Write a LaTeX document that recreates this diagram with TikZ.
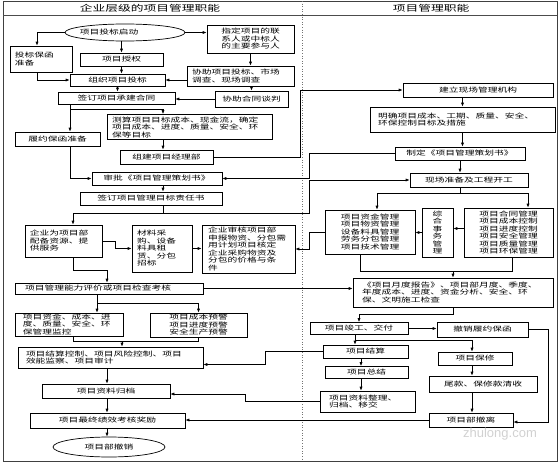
\documentclass[tikz,border=0pt]{standalone}
\usepackage{fontspec}
\newfontfamily\cjk[FakeStretch=1.5]{Noto Sans CJK SC}
\newfontfamily\wmfont{Liberation Sans}
\usetikzlibrary{arrows.meta,shapes.geometric}
\begin{document}
\begin{tikzpicture}[x=1pt,y=-1pt,
  box/.style={draw, line width=0.7pt, inner sep=0pt, align=center, font=\cjk\fontsize{6.5}{7.5}\selectfont},
  lb/.style={align=left, text width=#1},
  arr/.style={-{Latex[length=4pt,width=3.2pt]}, line width=0.7pt},
  ln/.style={line width=0.7pt},
  hdr/.style={font=\cjk\fontsize{8.5}{9}\selectfont},
]
\useasboundingbox (0,0) rectangle (560,463);
% frame
\draw[line width=1pt, black!75] (3,1) rectangle (557,461);
\draw[line width=0.6pt, black!70] (3,15) -- (557,15);
\draw[dotted, line width=0.6pt, black!55] (302,1) -- (302,461);
\node[hdr] (h1) at (150,8) {企业层级的项目管理职能};
\node[hdr] (h2) at (431,8) {项目管理职能};

% left column nodes
\node[box, shape=ellipse, minimum width=120pt, minimum height=17pt] (start) at (125,32.5) {\hspace*{-32pt}项目投标启动};
\node[box, lb=52pt, minimum width=62pt, minimum height=26pt] (bh) at (41,59) {投标保函\\准备};
\node[box, minimum width=87pt, minimum height=28pt] (zd) at (250.5,39) {指定项目的联\\系人或中标人\\的主要参与人};
\node[box, minimum width=83pt, minimum height=13pt] (sq) at (121.5,59.5) {项目授权};
\node[box, minimum width=95pt, minimum height=12pt] (zz) at (117.5,80) {组织项目投标};
\node[box, lb=97pt, minimum width=107pt, minimum height=20pt] (xz) at (240.5,76) {协助项目投标、市场\\调查、现场调查};
\node[box, minimum width=117pt, minimum height=12pt] (qd) at (116.5,98) {签订项目承建合同};
\node[box, minimum width=73pt, minimum height=16pt] (ht) at (251.5,99) {协助合同谈判};
\node[box, lb=155pt, minimum width=165pt, minimum height=25pt] (cs) at (189.5,127) {测算项目目标成本、现金流，确定\\项目成本、进度、质量、安全、环\\保等目标};
\node[box, minimum width=85pt, minimum height=14pt] (ly) at (57.5,139) {履约保函准备};
\node[box, minimum width=93pt, minimum height=14pt] (zj) at (166.5,157) {组建项目经理部};
\node[box, minimum width=130pt, minimum height=13pt] (sp) at (157,178.5) {审批《项目管理策划书》};
\node[box, minimum width=142pt, minimum height=13pt] (mb) at (151,198.5) {签订项目管理目标责任书};

% right column upper
\node[box, minimum width=150pt, minimum height=14pt] (jl) at (478,90) {建立现场管理机构};
\node[box, lb=169pt, minimum width=185pt, minimum height=25pt] (mq) at (462.5,119.5) {明确项目成本、工期、质量、安全、\\环保控制目标及措施};
\node[box, minimum width=130pt, minimum height=13pt] (zd2) at (460,153.5) {制定《项目管理策划书》};
\node[box, minimum width=118pt, minimum height=14pt] (xc) at (469,180) {现场准备及工程开工};

% middle
\node[box, lb=67pt, minimum width=77pt, minimum height=32pt] (qy) at (63.5,241) {企业为项目部\\配备资源、提\\供服务};
\node[box, lb=50pt, minimum width=60pt, minimum height=47pt] (cl) at (162,248.5) {材料采\\购、设备\\料具租\\赁、分包\\招标};
\node[box, lb=81pt, minimum width=93pt, minimum height=48pt] (sh) at (248.5,249) {企业审核项目部\\申报物资、分包需\\用计划项目核定\\企业采购物资及\\分包的价格与条\\件};
\node[box, minimum width=90pt, minimum height=44pt] (zj2) at (370,232) {项目资金管理\\项目物资管理\\设备料具管理\\劳务分包管理\\项目技术管理};
\node[box, minimum width=31pt, minimum height=49pt] (zh) at (437.5,232.5) {综\\合\\事\\务\\管\\理};
\node[box, minimum width=89pt, minimum height=49pt] (ht2) at (508.5,232.5) {项目合同管理\\项目成本控制\\项目进度控制\\项目安全管理\\项目质量管理\\项目环保管理};
\node[box, lb=168pt, minimum width=188pt, minimum height=11pt] (pj) at (109,288.5) {项目管理能力评价或项目检查考核};
\node[box, lb=182pt, minimum width=200pt, minimum height=29pt] (yd) at (453,292.5) {《项目月度报告》、项目部月度、季度、\\年度成本、进度、资金分析、安全、环\\保、文明施工检查};

% lower left
\node[box, lb=92pt, minimum width=108pt, minimum height=23pt] (jk) at (69,324.5) {项目资金、成本、进\\度、质量、安全、环\\保管理监控};
\node[box, minimum width=97pt, minimum height=24pt] (yj) at (198.5,325) {项目成本预警\\项目进度预警\\安全生产预警};
\node[box, lb=169pt, minimum width=185pt, minimum height=21pt] (js) at (110.5,357.5) {项目结算控制、项目风险控制、项目\\效能监察、项目审计};
\node[box, minimum width=128pt, minimum height=14pt] (gd) at (106,391) {项目资料归档};
\node[box, minimum width=155pt, minimum height=15pt] (jx) at (107.5,420.5) {项目最终绩效考核奖励};
\node[box, shape=ellipse, minimum width=112pt, minimum height=20pt] (fin) at (109,447) {项目部撤销};

% lower right
\node[box, minimum width=98pt, minimum height=12pt] (jg) at (359,328.5) {项目竣工、交付};
\node[box, minimum width=91pt, minimum height=15pt] (cx) at (482.5,329.5) {撤销履约保函};
\node[box, minimum width=85pt, minimum height=13pt] (jsu) at (365.5,351.5) {项目结算};
\node[box, minimum width=74pt, minimum height=13pt] (bx) at (475,358.5) {项目保修};
\node[box, minimum width=83pt, minimum height=12pt] (zjie) at (366.5,372.5) {项目总结};
\node[box, lb=77pt, minimum width=95pt, minimum height=21pt] (zl) at (367.5,401.5) {项目资料整理、\\归档、移交};
\node[box, minimum width=108pt, minimum height=16pt] (wk) at (483,384) {尾款、保修款清收};
\node[box, minimum width=84pt, minimum height=14pt] (cl2) at (471,420) {项目部撤离};

\node[font=\wmfont\fontsize{13}{13}\selectfont, text=black!18] (wm) at (500,434) {zhulong.com};

% helper coordinates
\coordinate (k1) at (70,109);
\coordinate (k2) at (163,109);
\coordinate (m1) at (300,0);
\coordinate (m2) at (309,0);
\coordinate (q1) at (73,213);
\coordinate (q2) at (309,213);
\coordinate (u1) at (377,193);
\coordinate (u2) at (528,193);
\coordinate (x1) at (309,0);
\coordinate (y1) at (360,271);
\coordinate (y2) at (512,271);
\coordinate (z1) at (115,0);
\coordinate (b1) at (73,270);
\coordinate (b2) at (107,270);
\coordinate (d1) at (97,303);
\coordinate (e1) at (73,341);
\coordinate (e2) at (122,341);
\coordinate (f1) at (265,0);
\coordinate (f2) at ([yshift=-7pt]js.east);
\coordinate (j1) at (245,0);
\coordinate (j2) at ([yshift=-3pt]gd.east);
\coordinate (l1) at (359,314);
\coordinate (n1) at (548,0);
\coordinate (n2) at ([yshift=-2pt]cl2.east);
\coordinate (o1) at (355,340);
\coordinate (o2) at (472,340);
\coordinate (p1) at (361,0);

% top connectors
\draw[arr] (start.west) -| ([xshift=-4pt]bh.north);
\draw[arr] (start.east) -- (start.east -| zd.west);
\draw[arr] (sq.north |- start.south) -- (sq.north);
\draw[arr] (sq.south) -- (sq.south |- zz.north);
\draw[arr] ([xshift=-4pt]bh.south) |- (zz.west);
\draw[arr] (zd.south) -- (zd.south |- xz.north);
\draw[arr] (xz.west |- zz.east) -- (zz.east);
\draw[arr] (ht.north |- xz.south) -- (ht.north);
\draw[arr] (ht.west) -- (ht.west -| qd.east);
\draw[arr] (zz.south) -- (zz.south |- qd.north);
\draw[arr] (qd.south -| k1) -- (k1 |- ly.north);
\draw[arr] (k1) -| (k2 |- cs.north);
\draw[arr] (k2 |- cs.south) -- (k2 |- zj.north);
\draw[arr] (k1 |- ly.south) |- (sp.west);
\draw[arr] (zj.east) -| (m1 |- jl.west) -- (jl.west);
\draw[arr] (zd2.west) -| (m2 |- sp.east) -- (sp.east);
\draw[arr] (k2 |- sp.south) -- (k2 |- mb.north);
\draw[ln] (k2 |- mb.south) -- (q1 -| k2);
\draw[arr] (q1 -| k2) -- (q1) -- (q1 |- qy.north);
\draw[arr] (q1 -| k2) -- (q2) |- (xc.west);

% right column
\draw[arr] (mq.north |- jl.south) -- (mq.north);
\draw[arr] (mq.south) -- (mq.south |- zd2.north);
\draw[arr] (zd2.south) -- (zd2.south |- xc.north);
\draw[ln] (zd2.south |- xc.south) -- (zd2.south |- u1);
\draw[ln] (u1) -- (u2);
\draw[arr] (u1) -- (u1 |- zj2.north);
\draw[arr] (u2) -- (u2 |- ht2.north);
\draw[arr] (zh.west) -- (zh.west -| zj2.east);
\draw[arr] ([yshift=4pt]ht2.west) -- ([yshift=4pt]ht2.west -| zh.east);
\draw[arr] (zj2.west) -| (x1 |- sh.east) -- (sh.east);
\draw[ln] (y1 |- zj2.south) -- (y1) -- (y2) -- (y2 |- ht2.south);
\draw[arr] (yd.north |- y1) -- (yd.north);

% middle left
\draw[arr] (qy.east) -| (z1 |- cl.west) -- (cl.west);
\draw[arr] (cl.east) -- (cl.east -| sh.west);
\draw[arr] (b1 |- qy.south) -- (b1) -- (b2) -- (b2 |- pj.north);
\draw[arr] (pj.east) -- (pj.east -| yd.west);
\draw[arr] (d1 |- pj.south) -- (d1 |- jk.north);
\draw[arr] (d1) -| (yj.north);
\draw[ln] (e1 |- jk.south) -- (e1) -| (yj.south);
\draw[arr] (e2) -- (e2 |- js.north);
\draw[arr] (jsu.west) -| (f1 |- f2) -- (f2);
\draw[arr] (b2 |- js.south) -- (b2 |- gd.north);
\draw[arr] (b2 |- gd.south) -- (b2 |- jx.north);
\draw[arr] (b2 |- jx.south) -- (b2 |- fin.north);
\draw[arr] (zl.west) -| (j1 |- j2) -- (j2);
\draw[arr] (cl2.west) -- (cl2.west -| jx.east);

% lower right
\draw[arr] (yd.south) |- (l1) -- (l1 |- jg.north);
\draw[arr] (jg.east) -- (jg.east -| cx.west);
\draw[arr] (cx.east) -| (n1 |- n2) -- (n2);
\draw[ln] (o1 |- jg.south) -- (o1) -- (o2);
\draw[arr] (o1) -- (o1 |- jsu.north);
\draw[arr] (o2) -- (o2 |- bx.north);
\draw[arr] (p1 |- jsu.south) -- (p1 |- zjie.north);
\draw[arr] (p1 |- zjie.south) -- (p1 |- zl.north);
\draw[arr] (o2 |- bx.south) -- (o2 |- wk.north);
\draw[arr] (o2 |- wk.south) -- (o2 |- cl2.north);
\end{tikzpicture}
\end{document}
